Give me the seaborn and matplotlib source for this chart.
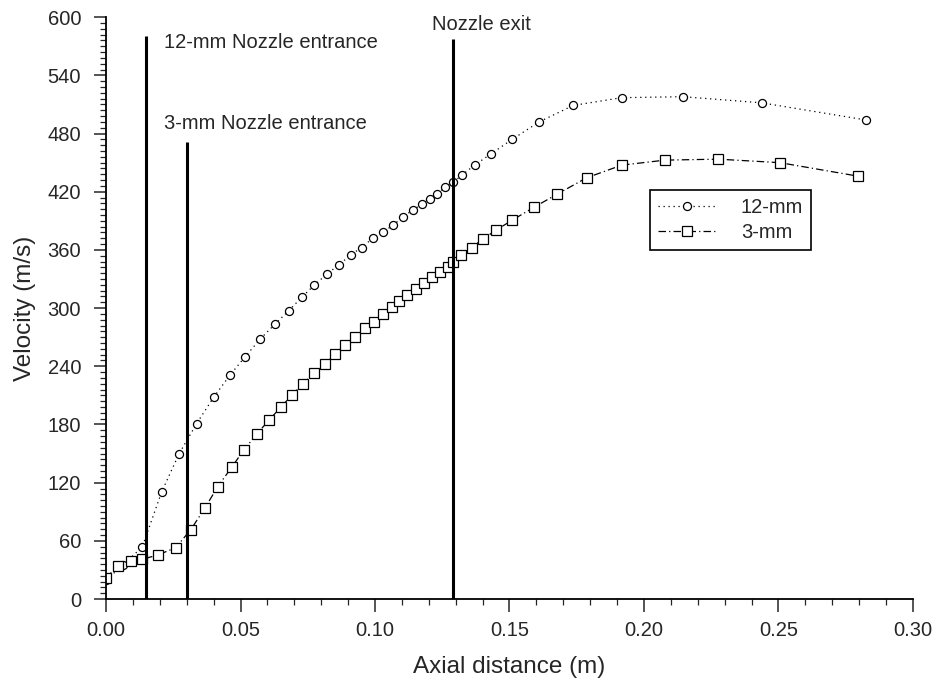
import numpy as np
import pandas as pd
import seaborn as sns
import matplotlib.pyplot as plt

# 12-mm nozzle (circles)
x_12 = [0.0, 0.0064, 0.0135, 0.0207, 0.0272, 0.0337, 0.0400, 0.0461, 0.0517, 0.0572,
        0.0628, 0.0680, 0.0727, 0.0774, 0.0823, 0.0865, 0.0909, 0.0950, 0.0991, 0.1030,
        0.1068, 0.1103, 0.1140, 0.1173, 0.1204, 0.1231, 0.1260, 0.1291, 0.1322, 0.1370,
        0.1430, 0.1510, 0.1610, 0.1737, 0.1917, 0.2145, 0.2437, 0.2825]
v_12 = [20, 35, 54, 110.6, 150, 181, 208, 231, 249.8, 267.7,
        283.5, 297.5, 311, 323.7, 335.5, 344.5, 354.6, 362.5, 371.9, 378.7,
        385.6, 394, 401, 407, 413, 418, 424.4, 429.6, 437, 447.4,
        458.8, 474, 492, 509, 517, 518, 511.7, 494]

# 3-mm nozzle (squares)
x_3 = [0.0, 0.0045, 0.0092, 0.0135, 0.0195, 0.0259, 0.0315, 0.0368, 0.0415, 0.0467,
       0.0513, 0.0560, 0.0606, 0.0649, 0.0690, 0.0731, 0.0773, 0.0814, 0.0851, 0.0888,
       0.0926, 0.0963, 0.0996, 0.1031, 0.1062, 0.1090, 0.1120, 0.1152, 0.1182, 0.1213,
       0.1241, 0.1270, 0.1291, 0.1319, 0.1359, 0.1400, 0.1450, 0.1510, 0.1590, 0.1677,
       0.1787, 0.1917, 0.2078, 0.2276, 0.2505, 0.2797]
v_3 = [22, 34, 39, 41, 45.7, 53, 71.5, 94, 115.8, 135.8,
       154, 170, 184.5, 197.6, 210, 221.6, 233, 242, 252.6, 262,
       270.4, 279, 286, 294, 300.7, 307.5, 313.4, 319.3, 325.5, 331.6,
       337.4, 342.6, 347.7, 354.6, 362.5, 371, 380.4, 390.7, 403.8, 417.5,
       434.4, 447.4, 452.6, 453.6, 450, 436]

# vertical markers: position, top, label
marker_x = [0.015, 0.030, 0.129]
marker_top = [581, 471, 578]
marker_labels = ['12-mm Nozzle entrance', '3-mm Nozzle entrance', 'Nozzle exit']
label_x = [0.0216, 0.0216, 0.1212]
label_y = [574, 490, 592]

df12 = pd.DataFrame({'x': x_12, 'v': v_12})
df3 = pd.DataFrame({'x': x_3, 'v': v_3})

sns.set_style('ticks')
plt.rcParams['font.family'] = ['Liberation Sans', 'DejaVu Sans']

fig = plt.figure(figsize=(9.34, 6.87), dpi=100)
ax = fig.add_axes([0.1135, 0.128, 0.864, 0.847])

sns.lineplot(data=df12, x='x', y='v', ax=ax, sort=False, color='black', linewidth=0.9,
             linestyle=(0, (1, 3)), marker='o', markersize=5.8, markerfacecolor='white',
             markeredgecolor='black', markeredgewidth=0.9, label='12-mm')
sns.lineplot(data=df3, x='x', y='v', ax=ax, sort=False, color='black', linewidth=0.9,
             linestyle=(0, (6, 2.5, 1, 2.5)), marker='s', markersize=6.5, markerfacecolor='white',
             markeredgecolor='black', markeredgewidth=0.9, label='3-mm')

ax.vlines(marker_x, 0, marker_top, colors='black', linewidth=2.2)
for lx, ly, txt in zip(label_x, label_y, marker_labels):
    ax.text(lx, ly, txt, fontsize=14.5, va='center', ha='left')

ax.set_xlim(0, 0.30)
ax.set_ylim(0, 600)
ax.set_xticks(np.arange(0, 0.301, 0.05))
ax.set_xticks(np.arange(0, 0.301, 0.01), minor=True)
ax.set_yticks(np.arange(0, 601, 60))
ax.set_yticks(np.arange(0, 601, 6), minor=True)
ax.xaxis.set_major_formatter(plt.FormatStrFormatter('%.2f'))
ax.tick_params(axis='both', which='major', labelsize=14.5, length=9, width=1.1, direction='out')
ax.tick_params(axis='y', which='major', pad=9)
ax.tick_params(axis='x', which='major', pad=7)
ax.tick_params(axis='both', which='minor', length=4.5, width=0.9, direction='out')
for s in ['left', 'bottom']:
    ax.spines[s].set_linewidth(1.3)
    ax.spines[s].set_color('black')
sns.despine(ax=ax)

ax.set_xlabel('Axial distance (m)', fontsize=17.5, labelpad=11)
ax.set_ylabel('Velocity (m/s)', fontsize=17.5, labelpad=8)

leg = ax.legend(loc='upper left', bbox_to_anchor=(0.662, 0.72), fontsize=14.5,
                frameon=True, fancybox=False, framealpha=1, edgecolor='black',
                handlelength=2.8, borderpad=0.4, labelspacing=0.3, handletextpad=1.3)
leg.get_frame().set_linewidth(1.2)

fig.savefig('out.png', dpi=100)
